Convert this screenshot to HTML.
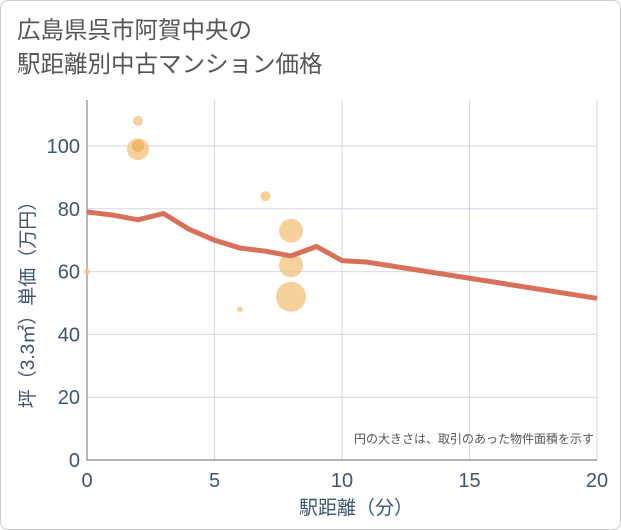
<!DOCTYPE html>
<html><head><meta charset="utf-8">
<style>
body{margin:0;background:#fff;font-family:"Liberation Sans","Noto Sans CJK JP",sans-serif;}
#card{position:absolute;left:0;top:0;width:619px;height:528px;border:1px solid #ccc;border-radius:8px;background:#fff;}
#title{position:absolute;left:17px;top:13px;font-size:23.5px;line-height:34px;color:#555;}
svg{position:absolute;left:0;top:0;}
</style></head><body>
<div id="card"></div>
<div id="title">広島県呉市阿賀中央の<br>駅距離別中古マンション価格</div>
<svg id="chart" width="621" height="530"></svg>
<script>
const xTicks=[0,5,10,15,20];
const yTicks=[0,20,40,60,80,100];
const lineX=[0,1,2,3,4,5,6,7,8,9,10,11,20];
const lineY=[79,78,76.5,78.5,73.5,70,67.5,66.5,65,68,63.5,63,51.5];
const bubX=[2,2,2,0,6,7,8,8,8];
const bubY=[108,99,100,60,48,84,73,62,52];
const bubR=[5,11,6,3,3,5,12,12,15];
const bubDark=[0,0,1,0,0,0,0,0,0];
const X0=87,X1=597,Y0=460,Y1=146;
const sx=v=>X0+(X1-X0)*v/20;
const sy=v=>Y0-(Y0-Y1)*v/100;
const svg=document.getElementById('chart');
const NS='http://www.w3.org/2000/svg';
function mk(t,a){const e=document.createElementNS(NS,t);for(const k in a)e.setAttribute(k,a[k]);svg.appendChild(e);return e;}
for(const v of yTicks){
 const g=mk('line',{x1:X0,x2:X1,y1:sy(v),y2:sy(v),stroke:'#d0dae6','stroke-width':1});
 
 
 const t=mk('text',{x:X0-7,y:sy(v)+7,'text-anchor':'end','font-size':20,fill:'#3d5570'});
 t.textContent=v;
 
 
}
for(const v of xTicks){
 const g=mk('line',{x1:sx(v),x2:sx(v),y1:100,y2:Y0,stroke:'#d0dae6','stroke-width':1});
 
 
 const t=mk('text',{x:sx(v),y:Y0+27,'text-anchor':'middle','font-size':20,fill:'#3d5570'});
 t.textContent=v;
 
 
}
const ax=mk('path',{d:`M${X0} 100V${Y0}H${X1}`,stroke:'#888',fill:'none','stroke-width':1.2});


for(let i=0;i<bubX.length;i++){
 const c=mk('circle',{cx:sx(bubX[i]),cy:sy(bubY[i]),r:bubR[i],fill:bubDark[i]?'#edb562':'#f3c27a','fill-opacity':bubDark[i]?0.9:0.75});
 
 
}
const p=mk('polyline',{points:lineX.map((x,i)=>sx(x)+','+sy(lineY[i])).join(' '),fill:'none',stroke:'#d9705a','stroke-width':5,'stroke-linejoin':'round'});


const n=mk('text',{x:594,y:443,'text-anchor':'end','font-size':12,fill:'#555'});
n.textContent='円の大きさは、取引のあった物件面積を示す';


const xt=mk('text',{x:356,y:514,'text-anchor':'middle','font-size':19,fill:'#3d5570'});
xt.textContent='駅距離（分）';


const yt=mk('text',{x:0,y:0,'text-anchor':'middle','font-size':19,fill:'#3d5570',transform:'translate(34,300) rotate(-90)'});
yt.textContent='坪（3.3㎡）単価（万円）';


</script>
</body></html>
